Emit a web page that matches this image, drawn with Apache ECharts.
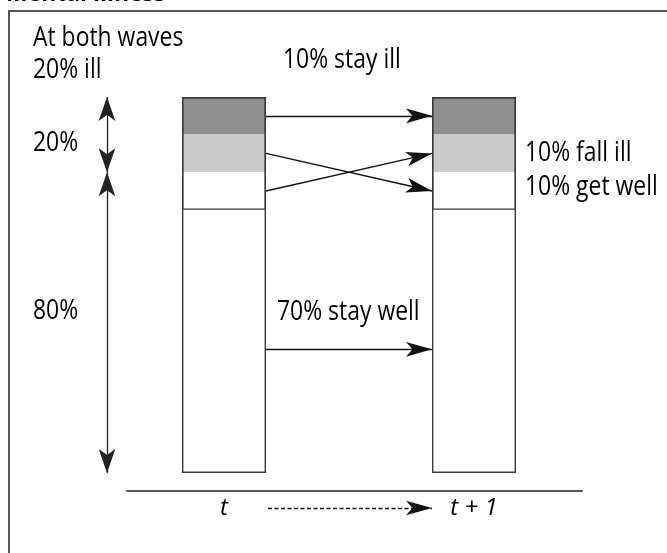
<!DOCTYPE html>
<html><head><meta charset="utf-8">
<script src="https://cdn.jsdelivr.net/npm/echarts@6/dist/echarts.min.js"></script>
<style>html,body{margin:0;padding:0;background:#fff}#c{width:667px;height:553px}</style>
</head><body><div id="c"></div>
<script>
// ---------------- data ----------------
const waveLabels = ['t', 't + 1'];
// layers of each bar from top to bottom, % of respondents
const layerStayIll   = [10, 10];   // ill at both waves (dark)
const layerChangeA   = [10, 10];   // t: ill who get well   | t+1: well who fell ill (light)
const layerChangeB   = [10, 10];   // t: well who fall ill  | t+1: ill who got well (white)
const layerStayWell  = [70, 70];   // well at both waves
const layerNames = ['stay ill', 'change A', 'change B', 'stay well'];
const rightBarLabels = ['', '10% fall ill', '10% get well', ''];
// flows between waves: layer index at t -> layer index at t+1
const flowFrom = [0, 1, 2, 3];
const flowTo   = [0, 2, 1, 3];
const flowArrowPos = [0.5, 0.5, 0.5, 0.53];
const flowLabels = ['10% stay ill', '', '', '70% stay well'];
// brackets on the left
const bracketShares = [20, 80];
const bracketLabels = ['20%', '80%'];
const headerLines = ['At both waves', '20% ill'];
const titleText = 'Mental illness';

// ---------------- layout / style ----------------
const FONT = '"Open Sans", "Noto Sans", sans-serif';
const FS = 26.5;
const SX = 0.865;           // horizontal squeeze of the annotation text
const W = 667, H = 553;
const TOP = 97, BOTTOM = 80;
const G0 = { left: 99, right: 68 };     // grid of the bars (category axis)
const G1 = { left: 127, right: 85 };    // overlay grid (value axis, base line, arrows)
const X_MIN = -0.388, X_MAX = 1.432;    // overlay x: 0 = centre of t bar, 1 = centre of t+1 bar
const BAR_W = 84;
const AXIS_OFFSET = 18;
const pxPerX = (W - G1.left - G1.right) / (X_MAX - X_MIN);
const pxPerY = (H - TOP - BOTTOM) / 100;
const toPx = (p) => [G1.left + (p[0] - X_MIN) * pxPerX, TOP + p[1] * pxPerY];
const fromPx = (q) => [X_MIN + (q[0] - G1.left) / pxPerX, (q[1] - TOP) / pxPerY];
const halfBarX = BAR_W / 2 / pxPerX;

const layers = [layerStayIll, layerChangeA, layerChangeB, layerStayWell];
const layerColors = ['#8e8f91', '#cacbcd', '#ffffff', '#ffffff'];
function layerStart(li, wi) { let s = 0; for (let k = 0; k < li; k++) s += layers[k][wi]; return s; }
function layerAt(li, wi, f) { return layerStart(li, wi) + layers[li][wi] * f; }
const barTotal = waveLabels.map((_, wi) => layers.reduce((s, l) => s + l[wi], 0));

const FLOW_HEAD = [[11, 26], [11, 26]];
const BR_HEAD = [[12.5, 24], [12.5, 24]];

const barSeries = layers.map((vals, li) => ({
  type: 'bar', name: layerNames[li], stack: 'fill', barWidth: BAR_W, barGap: '-100%',
  xAxisIndex: 0, yAxisIndex: 0,
  itemStyle: { color: layerColors[li], borderWidth: 0 },
  data: vals, silent: true
}));

// outlines: whole bar, plus the (ill + changers) block whose lower edge marks the stay-well part
const outlineSeries = [
  barTotal,
  waveLabels.map((_, wi) => layerStart(3, wi))
].map((vals, oi) => ({
  type: 'bar', stack: 'outline' + oi, barWidth: BAR_W, barGap: '-100%',
  xAxisIndex: 0, yAxisIndex: 0,
  itemStyle: { color: 'rgba(0,0,0,0)', borderColor: '#3a3a3a', borderWidth: 1.4 },
  data: vals, silent: true
}));

const flowData = flowFrom.map((fi, k) => ({
  coords: [
    [0 + halfBarX, layerAt(fi, 0, flowArrowPos[k])],
    [1 - halfBarX, layerAt(flowTo[k], 1, flowArrowPos[k])]
  ]
}));

const bracketX = fromPx([107, 0])[0];
let acc = 0;
const bracketData = bracketShares.map((s) => {
  const seg = [[bracketX, acc], [bracketX, acc + s]];
  acc += s;
  return { coords: seg };
});

const timeY = 100 + (AXIS_OFFSET + 17) / pxPerY;
const timeData = [{ coords: [[0 + halfBarX + 2 / pxPerX, timeY], [1 - halfBarX, timeY]] }];

const txt = (text, x, y, extraStyle) => ({
  type: 'text', x, y, scaleX: SX, silent: true,
  style: Object.assign({ text, fontFamily: FONT, fontSize: FS, fill: '#000', align: 'left', verticalAlign: 'middle' }, extraStyle || {})
});

const rightX = toPx([1 + halfBarX, 0])[0] + 9;
const rightTexts = rightBarLabels.map((lab, li) => lab ? txt(lab, rightX, toPx([1, layerAt(li, 1, 0.5)])[1] - (li === 2 ? 4 : 0)) : null).filter(Boolean);

const option = {
  animation: false,
  backgroundColor: '#fff',
  grid: [
    { left: G0.left, right: G0.right, top: TOP, bottom: BOTTOM },
    { left: G1.left, right: G1.right, top: TOP, bottom: BOTTOM }
  ],
  xAxis: [
    {
      type: 'category', gridIndex: 0, data: waveLabels, position: 'bottom', offset: AXIS_OFFSET,
      axisLine: { show: false, onZero: false }, axisTick: { show: false }, splitLine: { show: false },
      axisLabel: { fontFamily: FONT, fontSize: 24, fontStyle: 'italic', color: '#000', margin: 5 }
    },
    {
      type: 'value', gridIndex: 1, min: X_MIN, max: X_MAX, position: 'bottom', offset: AXIS_OFFSET,
      axisLine: { show: true, onZero: false, lineStyle: { color: '#555', width: 2 } },
      axisTick: { show: false }, splitLine: { show: false }, axisLabel: { show: false }
    }
  ],
  yAxis: [
    { type: 'value', gridIndex: 0, inverse: true, min: 0, max: 100, show: false },
    { type: 'value', gridIndex: 1, inverse: true, min: 0, max: 100, show: false }
  ],
  series: [
    ...barSeries,
    ...outlineSeries,
    {
      type: 'lines', coordinateSystem: 'cartesian2d', xAxisIndex: 1, yAxisIndex: 1, clip: false, silent: true,
      symbol: ['none', 'arrow'], symbolSize: FLOW_HEAD,
      lineStyle: { color: '#111', width: 1.3, opacity: 1 },
      data: flowData
    },
    {
      type: 'lines', coordinateSystem: 'cartesian2d', xAxisIndex: 1, yAxisIndex: 1, clip: false, silent: true,
      symbol: ['arrow', 'arrow'], symbolSize: BR_HEAD,
      lineStyle: { color: '#222', width: 1.3, opacity: 1 },
      data: bracketData
    },
    {
      type: 'lines', coordinateSystem: 'cartesian2d', xAxisIndex: 1, yAxisIndex: 1, clip: false, silent: true,
      symbol: ['none', 'arrow'], symbolSize: FLOW_HEAD,
      lineStyle: { color: '#111', width: 1.3, type: [4, 2.5], opacity: 1 },
      data: timeData
    }
  ],
  graphic: [
    { type: 'polyline', silent: true, shape: { points: [[9, H], [9, 11], [W, 11]] }, style: { stroke: '#555', lineWidth: 2, fill: null } },
    txt(titleText, 6, -6.5, { fontWeight: 'bold' }),
    txt(headerLines[0], 33, 38.5),
    txt(headerLines[1], 33, 70.5),
    txt(flowLabels[0], 283, 60.5),
    txt(bracketLabels[0], 33, 143.5),
    txt(bracketLabels[1], 33, 311),
    txt(flowLabels[3], 277, 312.5),
    ...rightTexts
  ]
};

const chart = echarts.init(document.getElementById('c'), null, { renderer: 'canvas' });
chart.setOption(option);
</script>
</body></html>
